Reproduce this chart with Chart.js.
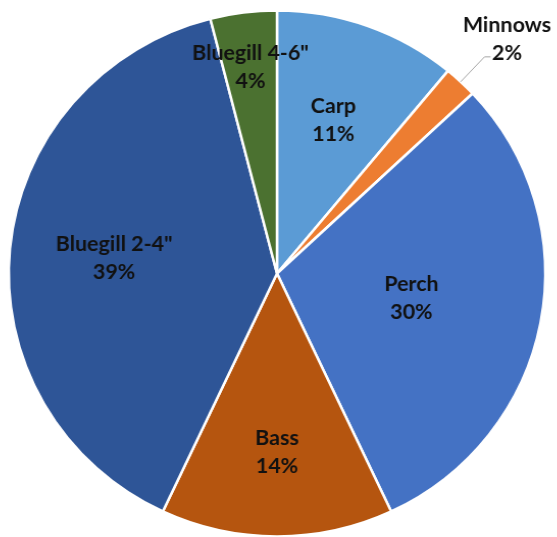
<!DOCTYPE html>
<html>
<head>
<meta charset="utf-8">
<script src="https://cdn.jsdelivr.net/npm/chart.js@4/dist/chart.umd.min.js"></script>
<style>
	html, body { margin: 0; padding: 0; background: #fff; overflow: hidden; }
	#wrap { width: 557px; height: 537px; }
	#fish-chart { transform: scaleX(1.02); transform-origin: 277px 0; }
</style>
</head>
<body>
<div id="wrap"><canvas id="fish-chart" width="557" height="537"></canvas></div>
<script>
var fishNames = ['Carp', 'Minnows', 'Perch', 'Bass', 'Bluegill 2-4"', 'Bluegill 4-6"'];
var fishPercent = [11, 2, 30, 14, 39, 4];
var fishColors = ['#5B9BD5', '#ED7D31', '#4472C4', '#B5550F', '#2E5597', '#4B7130'];

// how far out from the centre each label sits (fraction of radius), outside ones get a leader
var labelPlace = [0.62, 'outside', 0.51, 0.68, 0.61, 0.79];

var sliceLabels = {
	id: 'sliceLabels',
	afterDatasetsDraw: function (chart) {
		var ctx = chart.ctx;
		var meta = chart.getDatasetMeta(0);
		ctx.save();
		ctx.font = 'bold 21px Lato';
		ctx.fillStyle = '#111';
		ctx.textAlign = 'center';
		ctx.textBaseline = 'middle';
		meta.data.forEach(function (arc, i) {
			var mid = (arc.startAngle + arc.endAngle) / 2;
			var r = arc.outerRadius;
			var lines = [fishNames[i], fishPercent[i] + '%'];
			var cx, cy;
			if (labelPlace[i] === 'outside') {
				var x0 = arc.x + Math.cos(mid) * r;
				var y0 = arc.y + Math.sin(mid) * r;
				var x1 = arc.x + Math.cos(mid) * r * 1.13;
				var y1 = arc.y + Math.sin(mid) * r * 1.13;
				ctx.strokeStyle = '#a6a6a6';
				ctx.lineWidth = 1;
				ctx.beginPath();
				ctx.moveTo(x0, y0);
				ctx.lineTo(x1, y1);
				ctx.lineTo(x1 + 6, y1);
				ctx.stroke();
				cx = x1 + 22;
				cy = y1 - 18;
			} else {
				cx = arc.x + Math.cos(mid) * r * labelPlace[i];
				cy = arc.y + Math.sin(mid) * r * labelPlace[i];
			}
			ctx.fillText(lines[0], cx, cy - 14);
			ctx.fillText(lines[1], cx, cy + 14);
		});
		ctx.restore();
	}
};

new Chart(document.getElementById('fish-chart').getContext('2d'), {
	type: 'pie',
	data: {
		labels: fishNames,
		datasets: [{
			data: fishPercent,
			backgroundColor: fishColors,
			borderColor: '#ffffff',
			borderWidth: 2.5
		}]
	},
	options: {
		responsive: false,
		animation: false,
		radius: 263,
		layout: { padding: { left: 0, right: 3, top: 10, bottom: 0 } },
		plugins: {
			legend: { display: false },
			tooltip: { enabled: false }
		}
	},
	plugins: [sliceLabels]
});
</script>
</body>
</html>
